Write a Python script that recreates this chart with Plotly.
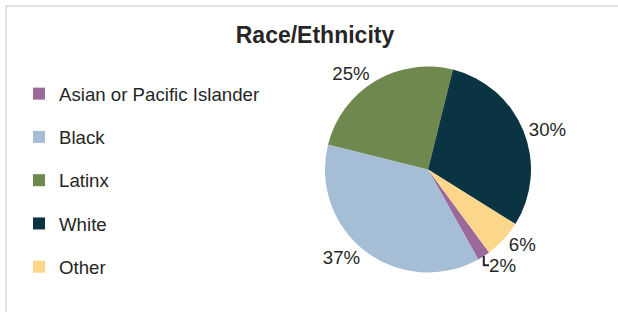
import plotly.graph_objects as go

labels = ["Asian or Pacific Islander", "Black", "Latinx", "White", "Other"]
values = [2, 37, 25, 30, 6]
colors = ["#9b6a9b", "#a5bed5", "#6f884d", "#0b3443", "#fcd68a"]

W, H = 618, 312
cx, cy, r = 428, 169.5, 103
FONT = "Liberation Sans, Arial"
TXT = "#262626"

fig = go.Figure()
fig.add_trace(go.Pie(
    labels=labels,
    values=values,
    marker=dict(colors=colors, line=dict(width=0)),
    sort=False,
    direction="clockwise",
    rotation=143.6,
    textinfo="percent",
    textposition="outside",
    textfont=dict(size=18.67, color=TXT, family=FONT),
    domain=dict(x=[(cx - r) / W, (cx + r) / W], y=[(H - cy - r) / H, (H - cy + r) / H]),
    hoverinfo="label+percent",
    showlegend=False,
))

# legend entries (one group per category so their spacing can be set)
for lab, col in zip(labels, colors):
    fig.add_trace(go.Scatter(
        x=[None], y=[None], mode="markers", name=lab, legendgroup=lab,
        marker=dict(symbol="square", size=10, color=col),
        hoverinfo="skip",
    ))

fig.update_layout(
    width=W, height=H,
    margin=dict(l=0, r=0, t=0, b=0),
    paper_bgcolor="white",
    plot_bgcolor="white",
    xaxis=dict(visible=False),
    yaxis=dict(visible=False),
    font=dict(family=FONT, color=TXT),
    title=dict(text="<b>Race/Ethnicity</b>", x=315 / W, xanchor="center", y=1 - 35 / H, yanchor="middle",
               font=dict(size=23, color=TXT, family=FONT)),
    legend=dict(x=19 / W, xanchor="left", y=1 - 75 / H, yanchor="top",
                font=dict(size=18.67, color=TXT, family=FONT), bgcolor="rgba(0,0,0,0)",
                tracegroupgap=16, itemsizing="constant"),
    shapes=[dict(type="rect", xref="paper", yref="paper", x0=6 / W, x1=1.05, y0=-0.05, y1=1 - 6 / H,
                 line=dict(color="#d9d9d9", width=1.5))],
)

fig.write_html("out.html", config={"displayModeBar": False},
               post_script="document.body.style.margin='0';")
